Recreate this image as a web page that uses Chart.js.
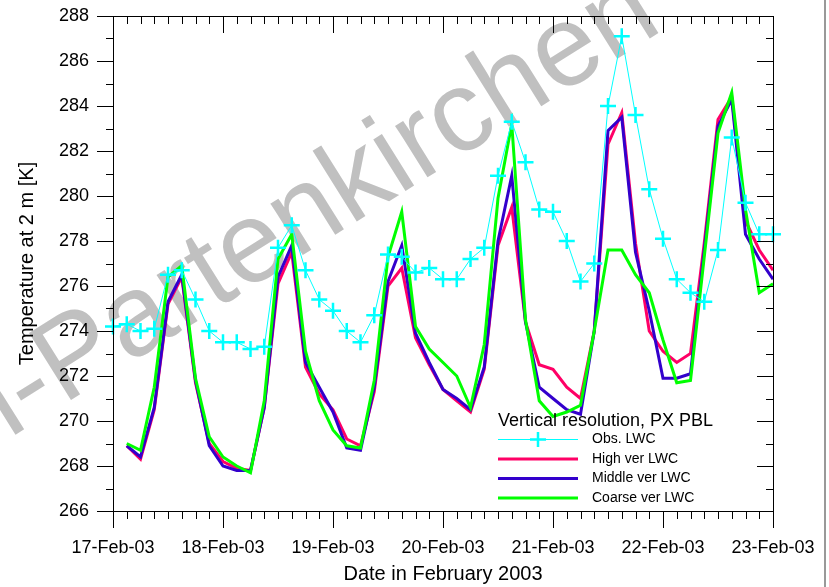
<!DOCTYPE html>
<html>
<head>
<meta charset="utf-8">
<script src="https://cdn.jsdelivr.net/npm/chart.js@4.4.1/dist/chart.umd.min.js"></script>
<style>
  html, body { margin: 0; padding: 0; background: #fff; }
  #chart { display: block; }
</style>
</head>
<body>
<canvas id="chart" width="829" height="587"></canvas>
<script>
// hours since 17-Feb-03 00:00, one value every 3 h
const hours = [0, 3, 6, 9, 12, 15, 18, 21, 24, 27, 30, 33, 36, 39, 42, 45, 48,
  51, 54, 57, 60, 63, 66, 69, 72, 75, 78, 81, 84, 87, 90, 93, 96, 99, 102, 105,
  108, 111, 114, 117, 120, 123, 126, 129, 132, 135, 138, 141, 144];
const dayLabels = ['17-Feb-03', '18-Feb-03', '19-Feb-03', '20-Feb-03', '21-Feb-03', '22-Feb-03', '23-Feb-03'];

const obsLwc = [274.2, 274.3, 274.0, 274.1, 276.5, 276.7, 275.4, 274.0, 273.5, 273.5,
  273.2, 273.3, 277.7, 278.7, 276.7, 275.4, 274.9, 274.0, 273.5, 274.7,
  277.4, 277.3, 276.6, 276.8, 276.3, 276.3, 277.2, 277.7, 280.9, 283.3,
  281.5, 279.4, 279.3, 278.0, 276.2, 277.0, 284.0, 287.1, 283.6, 280.3,
  278.1, 276.3, 275.7, 275.3, 277.6, 282.6, 279.7, 278.3, 278.3];
const highLwc = [null, 268.9, 268.3, 270.5, 275.2, 276.4, 271.7, 269.0, 268.2, 267.9,
  267.8, 270.6, 276.1, 277.5, 272.4, 271.2, 270.5, 269.2, 268.9, 271.3,
  276.0, 276.8, 273.7, 272.5, 271.4, 270.9, 270.4, 272.3, 277.8, 279.5,
  274.4, 272.5, 272.3, 271.5, 271.0, 274.0, 282.3, 283.7, 277.9, 274.0,
  273.1, 272.6, 273.0, 277.9, 283.4, 284.4, 278.9, 277.6, 276.7];
const middleLwc = [null, 268.9, 268.4, 270.6, 275.3, 276.5, 271.8, 268.9, 268.0, 267.8,
  267.8, 270.6, 276.4, 277.8, 272.6, 271.5, 270.4, 268.8, 268.7, 271.5,
  276.2, 277.8, 273.9, 272.6, 271.4, 271.0, 270.5, 272.4, 278.0, 280.9,
  274.4, 271.5, 271.0, 270.5, 270.3, 274.0, 282.9, 283.5, 277.5, 274.9,
  271.9, 271.9, 272.1, 277.6, 283.1, 284.3, 278.3, 277.2, 276.3];
const coarseLwc = [null, 269.0, 268.7, 271.5, 276.4, 276.9, 271.9, 269.3, 268.4, 268.0,
  267.7, 270.9, 277.2, 278.3, 273.1, 270.9, 269.6, 268.9, 268.8, 271.8,
  277.3, 279.3, 274.2, 273.2, 272.6, 272.0, 270.6, 273.4, 279.9, 283.2,
  274.5, 270.9, 270.2, 270.4, 270.7, 274.0, 277.6, 277.6, 276.5, 275.7,
  273.6, 271.7, 271.8, 277.3, 282.8, 284.6, 279.4, 275.7, 276.1];

const seriesNames = ['Obs. LWC', 'High ver LWC', 'Middle ver LWC', 'Coarse ver LWC'];
const legendTitle = 'Vertical resolution, PX PBL';
const FONT = '"Liberation Sans", Arial, sans-serif';

function toPoints(values) {
  return hours.map((h, i) => ({ x: h, y: values[i] }));
}

// scales should not push the plot area around: fix size, drop label overhang
function fixBox(w, h) {
  return function (scale) {
    if (w) scale.width = w;
    if (h) scale.height = h;
    scale.paddingTop = 0;
    scale.paddingBottom = 0;
    scale.paddingLeft = 0;
    scale.paddingRight = 0;
  };
}

// big grey watermark behind everything
const watermark = {
  id: 'watermark',
  beforeDraw(chart) {
    const ctx = chart.ctx;
    ctx.save();
    ctx.translate(63, 405);
    ctx.rotate(-32 * Math.PI / 180);
    ctx.font = '115px ' + FONT;
    ctx.fillStyle = '#c0c0c0';
    ctx.textBaseline = 'alphabetic';
    ctx.textAlign = 'left';
    ctx.fillText('Partenkirchen', 0, 0);
    ctx.textAlign = 'right';
    ctx.fillText('Garmisch-', 0, 0);
    ctx.restore();
  }
};

// box frame with major/minor ticks (outside on left/bottom, inside on top/right)
const axisFrame = {
  id: 'axisFrame',
  afterDatasetsDraw(chart) {
    const { ctx, chartArea: a, scales: { x, y } } = chart;
    ctx.save();
    ctx.strokeStyle = '#000';
    ctx.lineWidth = 1;
    ctx.beginPath();
    ctx.rect(a.left + 0.5, a.top + 0.5, a.right - a.left, a.bottom - a.top);
    for (let v = y.min; v <= y.max; v++) {
      const py = Math.round(y.getPixelForValue(v)) + 0.5;
      const len = v % 2 === 0 ? 16 : 7;
      ctx.moveTo(a.left - len, py); ctx.lineTo(a.left, py);
      ctx.moveTo(a.right - len, py); ctx.lineTo(a.right, py);
    }
    for (let h = x.min; h <= x.max; h += 3) {
      const px = Math.round(x.getPixelForValue(h)) + 0.5;
      const len = h % 24 === 0 ? 17 : 8;
      ctx.moveTo(px, a.bottom); ctx.lineTo(px, a.bottom + len);
      ctx.moveTo(px, a.top); ctx.lineTo(px, a.top + len);
    }
    ctx.stroke();
    // grey picture border on the right
    ctx.fillStyle = '#999';
    ctx.fillRect(824, 0, 2, chart.height);
    ctx.restore();
  }
};

const legendBox = {
  id: 'legendBox',
  afterDatasetsDraw(chart) {
    const ctx = chart.ctx;
    ctx.save();
    ctx.fillStyle = '#000';
    ctx.font = '18px ' + FONT;
    ctx.textBaseline = 'middle';
    ctx.textAlign = 'left';
    ctx.fillText(legendTitle, 498, 421);
    ctx.font = '14px ' + FONT;
    chart.data.datasets.forEach((ds, i) => {
      const yy = 439.5 + i * 19.5;
      ctx.strokeStyle = ds.borderColor;
      ctx.lineWidth = ds.borderWidth;
      ctx.beginPath();
      ctx.moveTo(498, yy); ctx.lineTo(578, yy);
      ctx.stroke();
      if (ds.pointStyle === 'cross') {
        ctx.lineWidth = 2.5;
        ctx.beginPath();
        ctx.moveTo(530, yy); ctx.lineTo(546, yy);
        ctx.moveTo(538, yy - 7.5); ctx.lineTo(538, yy + 7.5);
        ctx.stroke();
      }
      ctx.fillStyle = '#000';
      ctx.fillText(ds.label, 592, yy);
    });
    ctx.restore();
  }
};

new Chart(document.getElementById('chart'), {
  type: 'line',
  data: {
    datasets: [
      {
        label: seriesNames[0], data: toPoints(obsLwc), order: 0, clip: false,
        borderColor: '#00ffff', backgroundColor: '#00ffff', borderWidth: 1,
        pointStyle: 'cross', pointRadius: 8, pointBorderWidth: 2.5
      },
      {
        label: seriesNames[1], data: toPoints(highLwc), order: 3,
        borderColor: '#ff0066', borderWidth: 3, pointRadius: 0
      },
      {
        label: seriesNames[2], data: toPoints(middleLwc), order: 2,
        borderColor: '#3300cc', borderWidth: 3, pointRadius: 0
      },
      {
        label: seriesNames[3], data: toPoints(coarseLwc), order: 1,
        borderColor: '#00ff00', borderWidth: 3, pointRadius: 0
      }
    ]
  },
  options: {
    responsive: false,
    animation: false,
    layout: { padding: { top: 16, right: 56, left: 0, bottom: 0 } },
    elements: { line: { tension: 0, fill: false } },
    plugins: { legend: { display: false }, tooltip: { enabled: false } },
    scales: {
      x: {
        type: 'linear', min: 0, max: 144,
        afterFit: fixBox(0, 76),
        grid: { display: false, drawTicks: false },
        border: { display: false },
        ticks: {
          stepSize: 24, padding: 26, color: '#000',
          font: { family: FONT, size: 18 },
          maxRotation: 0,
          callback: v => dayLabels[v / 24]
        },
        title: {
          display: true, text: 'Date in February 2003', color: '#000',
          font: { family: FONT, size: 20 }, padding: { top: 0, bottom: 1 }
        }
      },
      y: {
        min: 266, max: 288,
        afterFit: fixBox(113, 0),
        grid: { display: false, drawTicks: false },
        border: { display: false },
        ticks: {
          stepSize: 2, padding: 24, color: '#000',
          font: { family: FONT, size: 18 }
        },
        title: {
          display: true, text: 'Temperature at 2 m [K]', color: '#000',
          font: { family: FONT, size: 20 }, padding: { top: 15, bottom: 0 }
        }
      }
    }
  },
  plugins: [watermark, axisFrame, legendBox]
});
</script>
</body>
</html>
